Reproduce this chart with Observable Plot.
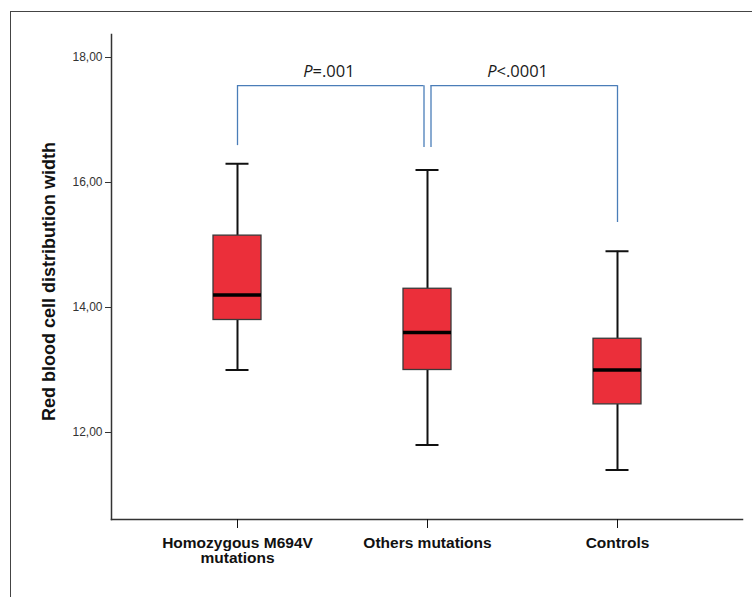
<!DOCTYPE html>
<html><head><meta charset="utf-8">
<script src="https://cdn.jsdelivr.net/npm/d3@7"></script>
<script src="https://cdn.jsdelivr.net/npm/@observablehq/plot@0.6"></script>
<style>
body{margin:0;background:#fff;}
#wrap{position:relative;width:752px;height:597px;overflow:hidden;}
#border{position:absolute;left:10px;top:11px;width:800px;height:700px;border-left:1.5px solid #444;border-top:1.5px solid #444;}
#chart{position:absolute;left:0;top:0;}
</style></head><body>
<div id="wrap"><div id="border"></div><div id="chart"></div></div>
<script>
// Categories and tick labels
const groups = ["Homozygous M694V mutations", "Others mutations", "Controls"];
const tickLabels = ["Homozygous M694V\nmutations", "Others mutations", "Controls"];
// Box plot statistics
const whiskerLow  = [13.0, 11.8, 11.4];
const q1          = [13.8, 13.0, 12.45];
const median      = [14.2, 13.6, 13.0];
const q3          = [15.15, 14.3, 13.5];
const whiskerHigh = [16.3, 16.2, 14.9];
// Axis
const yTicks = [12, 14, 16, 18];
const yDomain = [10.608, 18.368];
const yLabel = "Red blood cell distribution width";
// Comparison brackets
const bracketFrom = [groups[0], groups[1]];
const bracketTo   = [groups[1], groups[2]];
const bracketTop  = [17.55, 17.55];
const bracketFromEnd = [16.59, 16.56];
const bracketToEnd   = [16.56, 15.36];
const pSymbol = ["P", "P"];
const pRest = ["=.001", "<.0001"];

const boxes = groups.map((g, i) => ({group: g, lo: whiskerLow[i], q1: q1[i], med: median[i], q3: q3[i], hi: whiskerHigh[i]}));
const brackets = bracketFrom.map((f, i) => ({from: f, to: bracketTo[i], top: bracketTop[i], fromEnd: bracketFromEnd[i], toEnd: bracketToEnd[i], sym: pSymbol[i], rest: pRest[i]}));

const bw = 48;
const blue = "#4a7db8";
const capInset = 12.5;
const pFont = "'Open Sans', 'Noto Sans', sans-serif";

const chart = Plot.plot({
  width: 752, height: 597,
  marginLeft: 111, marginRight: 10, marginTop: 34, marginBottom: 78,
  style: {fontFamily: "'Liberation Sans', Arial, sans-serif", background: "transparent", overflow: "visible", color: "#222"},
  x: {type: "band", domain: groups, paddingInner: 0.748, paddingOuter: 0.53, label: null},
  y: {domain: yDomain, label: null},
  marks: [
    Plot.frame({anchor: "left", stroke: "#333", strokeWidth: 1.5}),
    Plot.frame({anchor: "bottom", stroke: "#333", strokeWidth: 1.5}),
    Plot.axisY({ticks: yTicks, tickFormat: d => d.toFixed(2).replace(".", ","), tickSize: 6, tickPadding: 3, fontSize: 12, color: "#333", label: null}),
    Plot.axisX({tickFormat: d => tickLabels[groups.indexOf(d)], tickSize: 9, tickPadding: 8, fontSize: 15.5, fontWeight: "bold", fontFamily: "'Liberation Sans Narrow', 'Arial Narrow', 'Liberation Sans', sans-serif", lineHeight: 1, color: "#111", label: null}),
    Plot.text([yLabel], {frameAnchor: "left", textAnchor: "middle", rotate: -90, dx: -62, dy: 4.5, fontWeight: "bold", fontSize: 18, fill: "#111"}),
    // whiskers
    Plot.ruleX(boxes, {x: "group", y1: "lo", y2: "q1", stroke: "#111", strokeWidth: 2}),
    Plot.ruleX(boxes, {x: "group", y1: "q3", y2: "hi", stroke: "#111", strokeWidth: 2}),
    Plot.tickY(boxes, {x: "group", y: "lo", stroke: "#111", strokeWidth: 2, insetLeft: capInset, insetRight: capInset}),
    Plot.tickY(boxes, {x: "group", y: "hi", stroke: "#111", strokeWidth: 2, insetLeft: capInset, insetRight: capInset}),
    // boxes
    Plot.barY(boxes, {x: "group", y1: "q1", y2: "q3", fill: "#eb2f3a", stroke: "#3a3a3a", strokeWidth: 1.3}),
    Plot.tickY(boxes, {x: "group", y: "med", stroke: "#000", strokeWidth: 3.5}),
    // brackets
    Plot.ruleX([brackets[0]], {x: "from", y1: "fromEnd", y2: "top", stroke: blue, strokeWidth: 1.3}),
    Plot.ruleX([brackets[0]], {x: "to", y1: "toEnd", y2: "top", stroke: blue, strokeWidth: 1.3, dx: -3.5}),
    Plot.ruleX([brackets[1]], {x: "from", y1: "fromEnd", y2: "top", stroke: blue, strokeWidth: 1.3, dx: 3.5}),
    Plot.ruleX([brackets[1]], {x: "to", y1: "toEnd", y2: "top", stroke: blue, strokeWidth: 1.3}),
    Plot.ruleY([brackets[0]], {x1: "from", x2: "to", y: "top", stroke: blue, strokeWidth: 1.3, insetLeft: bw / 2, insetRight: bw / 2 + 3.5}),
    Plot.ruleY([brackets[1]], {x1: "from", x2: "to", y: "top", stroke: blue, strokeWidth: 1.3, insetLeft: bw / 2 + 3.5, insetRight: bw / 2}),
    // p-values
    Plot.text([brackets[0]], {x: "to", y: "top", text: "sym", textAnchor: "end", dx: -115, dy: -13.5, fontStyle: "italic", fontSize: 16.5, fontFamily: pFont, fill: "#1a1a1a"}),
    Plot.text([brackets[0]], {x: "to", y: "top", text: "rest", textAnchor: "start", dx: -115, dy: -13.5, fontSize: 16.5, fontFamily: pFont, fill: "#1a1a1a"}),
    Plot.text([brackets[1]], {x: "from", y: "top", text: "sym", textAnchor: "end", dx: 69, dy: -13.5, fontStyle: "italic", fontSize: 16.5, fontFamily: pFont, fill: "#1a1a1a"}),
    Plot.text([brackets[1]], {x: "from", y: "top", text: "rest", textAnchor: "start", dx: 69, dy: -13.5, fontSize: 16.5, fontFamily: pFont, fill: "#1a1a1a"})
  ]
});
document.getElementById("chart").appendChild(chart);
</script>
</body></html>
